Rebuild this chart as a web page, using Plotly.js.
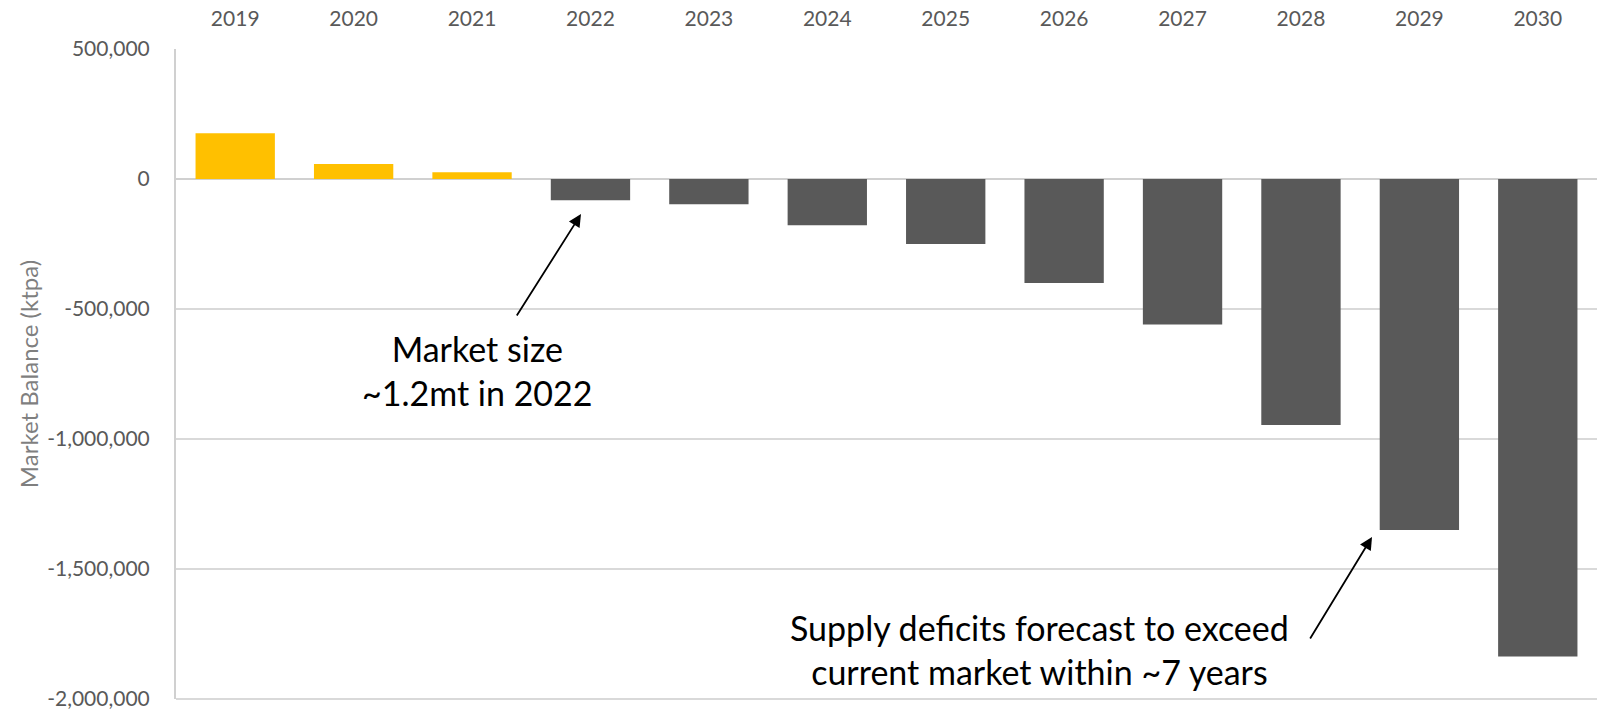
<!DOCTYPE html>
<html>
<head>
<meta charset="utf-8">
<script src="https://cdn.plot.ly/plotly-3.0.1.min.js"></script>
<style>html,body{margin:0;padding:0;background:#fff;}#chart{width:1597px;height:710px;}</style>
</head>
<body>
<div id="chart"></div>
<script>
const years = ['2019','2020','2021','2022','2023','2024','2025','2026','2027','2028','2029','2030'];
const balance = [176000, 58000, 26000, -82000, -97000, -178000, -250000, -400000, -560000, -946000, -1350000, -1837000];
const surplusColor = '#FFC000';
const deficitColor = '#595959';
const barColors = balance.map(v => v >= 0 ? surplusColor : deficitColor);
const yTicks = [500000, 0, -500000, -1000000, -1500000, -2000000];
const yTickText = ['500,000', '0', '-500,000', '-1,000,000', '-1,500,000', '-2,000,000'];
const yMin = -2000000;
const yMax = 500000;
const note1 = 'Market size<br>~1.2mt in 2022';
const note2 = 'Supply deficits forecast to exceed<br>current market within ~7 years';

const FONT = 'Lato, "Open Sans", sans-serif';

const trace = {
  type: 'bar',
  x: years,
  y: balance,
  marker: {color: barColors, line: {width: 0}},
  hoverinfo: 'x+y'
};

const layout = {
  width: 1597, height: 710,
  margin: {l: 176, r: 0, t: 49, b: 11, pad: 0},
  paper_bgcolor: '#ffffff', plot_bgcolor: '#ffffff',
  bargap: 0.33,
  showlegend: false,
  font: {family: FONT, color: '#595959'},
  xaxis: {
    type: 'category',
    side: 'top',
    showgrid: false,
    showline: false,
    ticks: '',
    tickfont: {family: FONT, size: 21, color: '#595959'},
    ticklabelstandoff: 18,
    fixedrange: true
  },
  yaxis: {
    range: [yMin, yMax],
    tickvals: yTicks,
    ticktext: yTickText,
    ticklabeloverflow: 'allow',
    showgrid: true,
    gridcolor: '#D9D9D9',
    gridwidth: 1.5,
    zeroline: true,
    zerolinecolor: '#D0D0D0',
    zerolinewidth: 2,
    showline: true,
    linecolor: '#D0D0D0',
    linewidth: 2,
    ticks: '',
    ticklabelstandoff: 20,
    tickfont: {family: FONT, size: 21, color: '#595959'},
    title: {text: 'Market Balance (ktpa)', font: {family: FONT, size: 24, color: '#7F7F7F'}, standoff: 2},
    fixedrange: true
  },
  shapes: [
    {type: 'line', xref: 'paper', yref: 'paper', x0: 0, x1: 1, y0: 0, y1: 0,
     line: {color: '#D9D9D9', width: 2}, layer: 'above'}
  ],
  annotations: [
    {
      x: 2.92, y: -135000, xref: 'x', yref: 'y',
      ax: 2.37, ay: -531000, axref: 'x', ayref: 'y',
      showarrow: true, arrowhead: 2, arrowsize: 1.4, arrowwidth: 1.8, arrowcolor: '#000000',
      text: ''
    },
    {
      x: 2.05, y: -738000, xref: 'x', yref: 'y',
      showarrow: false, text: note1,
      font: {family: FONT, size: 34, color: '#000000'}, align: 'center'
    },
    {
      x: 9.60, y: -1377000, xref: 'x', yref: 'y',
      ax: 9.07, ay: -1773000, axref: 'x', ayref: 'y',
      showarrow: true, arrowhead: 2, arrowsize: 1.4, arrowwidth: 1.8, arrowcolor: '#000000',
      text: ''
    },
    {
      x: 6.79, y: -1808000, xref: 'x', yref: 'y',
      showarrow: false, text: note2,
      font: {family: FONT, size: 34, color: '#000000'}, align: 'center'
    }
  ]
};

Plotly.newPlot('chart', [trace], layout, {displayModeBar: false, staticPlot: true});
</script>
</body>
</html>
